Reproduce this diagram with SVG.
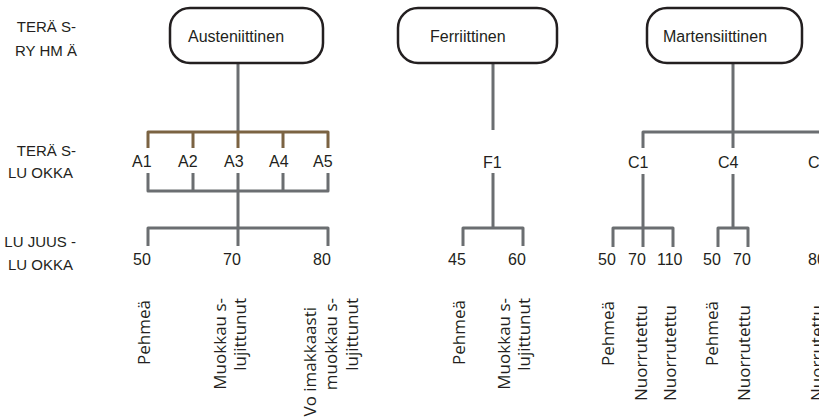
<svg xmlns="http://www.w3.org/2000/svg" width="819" height="419" viewBox="0 0 819 419">
<style>
.bg{fill:#ffffff}
.box{fill:#ffffff;stroke:#231f20;stroke-width:2.5}
.t{font-family:"Liberation Sans",Arial,sans-serif;font-size:16px;fill:#231f20}
.side{font-family:"Liberation Sans",Arial,sans-serif;font-size:15px;fill:#231f20;text-anchor:end}
.v{font-family:"Open Sans","Liberation Sans",sans-serif;font-size:17px;fill:#231f20;text-anchor:end}
.g{fill:none;stroke:#6b6e71;stroke-width:3;stroke-linejoin:round}
.b{fill:none;stroke:#7b6342;stroke-width:3;stroke-linejoin:round}
</style>
<rect class="bg" x="0" y="0" width="819" height="419"/>
<g id="row-labels">
<text class="side" x="76" y="32">TERÄ S-</text>
<text class="side" x="77" y="56">RY HM Ä</text>
<text class="side" x="76" y="156">TERÄ S-</text>
<text class="side" x="73" y="178">LU OKKA</text>
<text class="side" x="76" y="247">LU JUUS -</text>
<text class="side" x="73" y="270">LU OKKA</text>
</g>
<g id="connectors">
<path class="g" d="M238 63V132"/>
<path class="b" d="M148 148V132H328V148M193 132V148M238 132V148M283 132V148"/>
<path class="g" d="M148 173V191H328V173M193 173V191M283 173V191M238 173V228"/>
<path class="g" d="M148 246V228H328V246M238 228V246"/>
<path class="g" d="M493 63V130M493 173V228M463 246V228H523V246"/>
<path class="g" d="M733 63V148M643 148V132H819"/>
<path class="g" d="M643 174V247M613 247V228H673V247"/>
<path class="g" d="M733 174V228M718 247V228H748V247"/>
</g>
<g id="node-austeniittinen">
<rect class="box" x="170" y="8" width="153" height="55" rx="20"/>
<text class="t" x="188" y="42">Austeniittinen</text>
</g>
<g id="node-ferriittinen">
<rect class="box" x="398" y="8" width="159" height="55" rx="20"/>
<text class="t" x="430" y="42">Ferriittinen</text>
</g>
<g id="node-martensiittinen">
<rect class="box" x="647" y="8" width="155" height="55" rx="20"/>
<text class="t" x="663" y="42">Martensiittinen</text>
</g>
<g id="classes">
<text class="t" x="132" y="167">A1</text>
<text class="t" x="178" y="167">A2</text>
<text class="t" x="224" y="167">A3</text>
<text class="t" x="269" y="167">A4</text>
<text class="t" x="313" y="167">A5</text>
<text class="t" x="483" y="168">F1</text>
<text class="t" x="628" y="168">C1</text>
<text class="t" x="718" y="168">C4</text>
<text class="t" x="808" y="168">C5</text>
</g>
<g id="strength">
<text class="t" x="133" y="265">50</text>
<text class="t" x="223" y="265">70</text>
<text class="t" x="313" y="265">80</text>
<text class="t" x="448" y="265">45</text>
<text class="t" x="508" y="265">60</text>
<text class="t" x="598" y="265">50</text>
<text class="t" x="628" y="265">70</text>
<text class="t" x="657" y="265">110</text>
<text class="t" x="703" y="265">50</text>
<text class="t" x="733" y="265">70</text>
<text class="t" x="808" y="265">80</text>
</g>
<g id="conditions">
<text class="v" transform="translate(150,300) rotate(-90)">Pehmeä</text>
<text class="v" transform="translate(226,298) rotate(-90)">Muokkau s-</text>
<text class="v" transform="translate(246,298) rotate(-90)">lujittunut</text>
<text class="v" transform="translate(316,307) rotate(-90)">Vo imakkaasti</text>
<text class="v" transform="translate(337,298) rotate(-90)">muokkau s-</text>
<text class="v" transform="translate(358,298) rotate(-90)">lujittunut</text>
<text class="v" transform="translate(465,300) rotate(-90)">Pehmeä</text>
<text class="v" transform="translate(510,298) rotate(-90)">Muokkau s-</text>
<text class="v" transform="translate(530,298) rotate(-90)">lujittunut</text>
<text class="v" transform="translate(614,301) rotate(-90)">Pehmeä</text>
<text class="v" transform="translate(647,305) rotate(-90)">Nuorrutettu</text>
<text class="v" transform="translate(676,305) rotate(-90)">Nuorrutettu</text>
<text class="v" transform="translate(718,301) rotate(-90)">Pehmeä</text>
<text class="v" transform="translate(750,305) rotate(-90)">Nuorrutettu</text>
<text class="v" transform="translate(823,305) rotate(-90)">Nuorrutettu</text>
</g>
</svg>
